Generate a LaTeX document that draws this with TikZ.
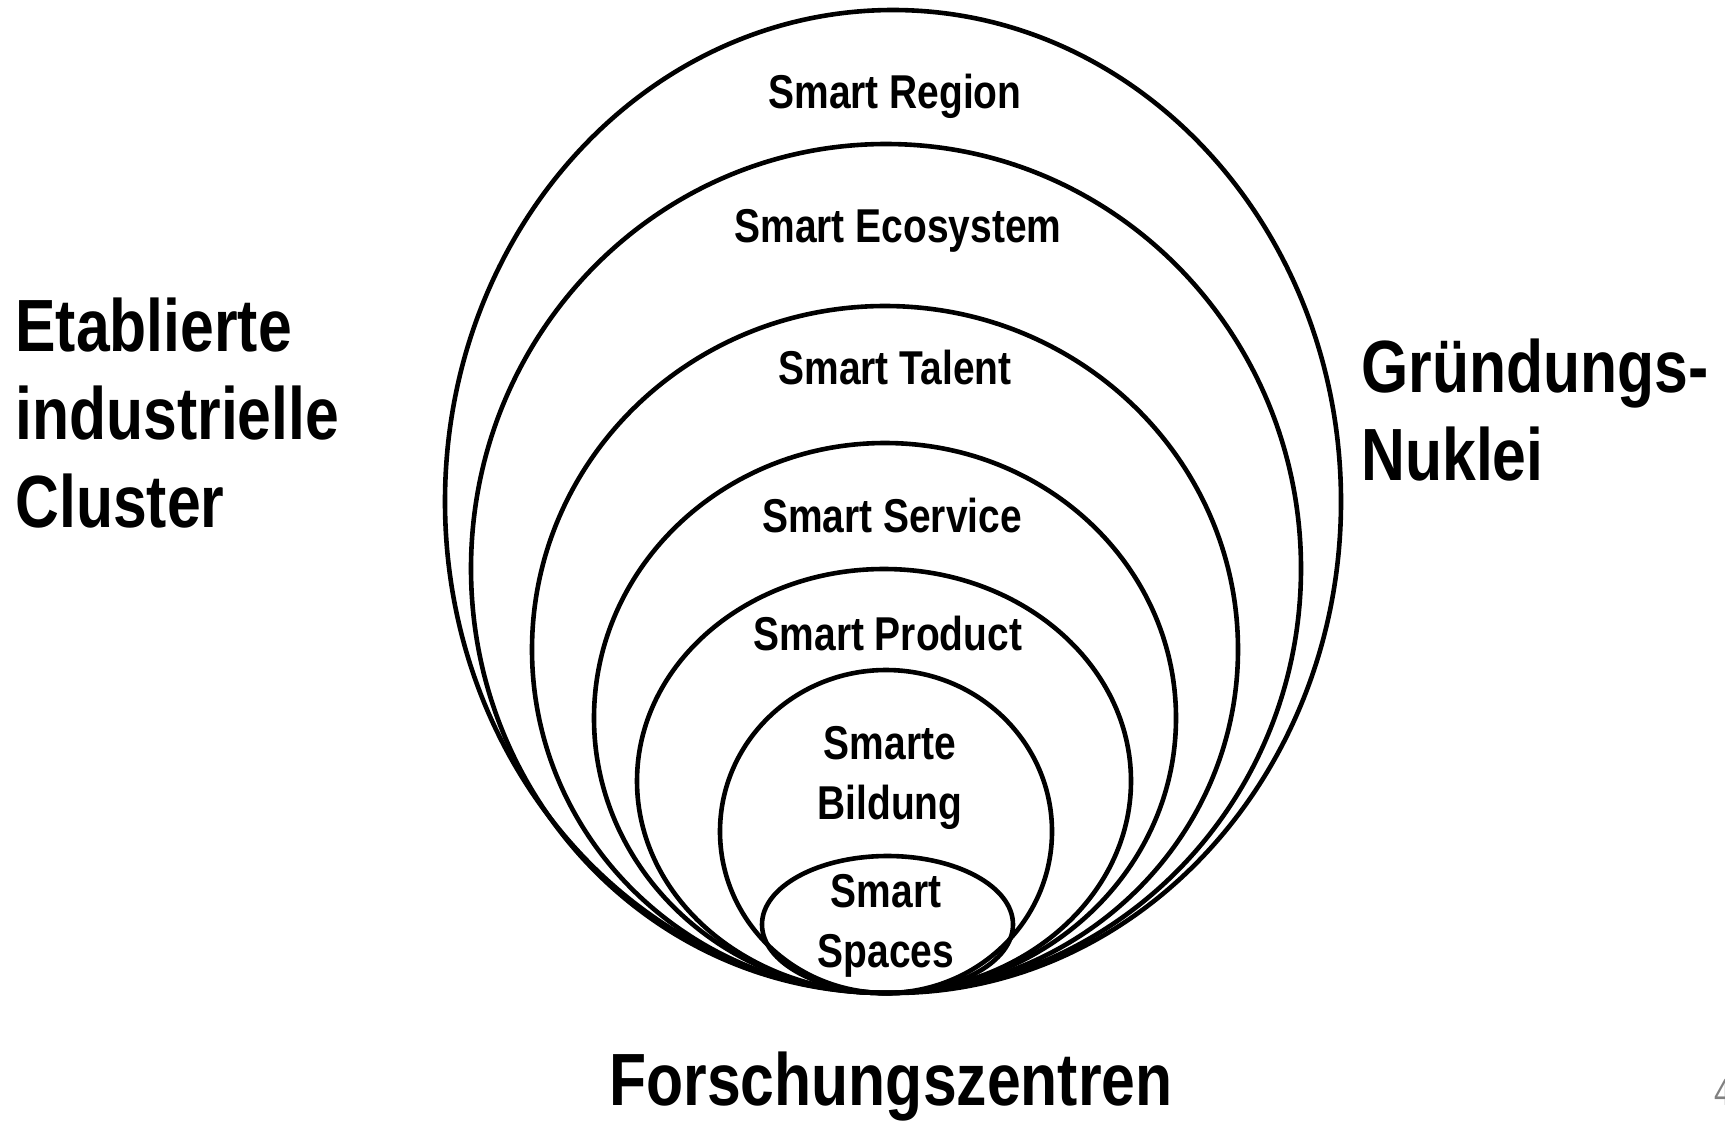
\documentclass[tikz,border=0pt]{standalone}
\usepackage{fontspec}
\setmainfont{Liberation Sans}[FakeStretch=0.82]
\usetikzlibrary{shapes.geometric}

\tikzset{
  ring/.style={draw, ellipse, inner sep=0pt, line width=2.3pt},
  layer/.style={font=\bfseries\fontsize{23.75}{30}\selectfont, align=center, inner sep=0pt, anchor=base},
  actor/.style={font=\bfseries\fontsize{37}{44}\selectfont, align=left, inner sep=0pt, anchor=base west},
}

\begin{document}
\begin{tikzpicture}[x=0.5pt, y=-0.5pt]
\useasboundingbox (0,0) rectangle (1725,1121);

\node[ring, minimum width=448pt, minimum height=491.5pt] (region) at (893, 501.5) {};
\node[ring, minimum width=415pt, minimum height=424.5pt] (ecosystem) at (886, 568.5) {};
\node[ring, minimum width=353pt, minimum height=343.5pt] (talent) at (885, 649.5) {};
\node[ring, minimum width=291pt, minimum height=275pt] (service) at (885, 718) {};
\node[ring, minimum width=247pt, minimum height=212pt] (product) at (884, 781) {};
\node[ring, minimum width=166pt, minimum height=161.5pt] (bildung) at (886, 831.5) {};
\node[ring, minimum width=125.5pt, minimum height=68.5pt] (spaces) at (887.5, 924.5) {};

\node[layer] (tregion) at (895, 108) {Smart Region};
\node[layer] (tecosystem) at (898, 242) {Smart Ecosystem};
\node[layer] (ttalent) at (895, 384) {Smart Talent};
\node[layer] (tservice) at (892, 532) {Smart Service};
\node[layer] (tproduct) at (888, 650) {Smart Product};
\node[layer] (tbildung) at (890, 819) {Smarte\\Bildung};
\node[layer] (tspaces) at (886, 967) {Smart\\Spaces};

\node[actor] (cluster) at (15, 527) {Etablierte\\industrielle\\Cluster};
\node[actor] (nuklei) at (1361, 480) {Gründungs-\\Nuklei};
\node[actor, align=center, anchor=base] (zentren) at (891, 1105) {Forschungszentren};

\node[font=\fontsize{19}{20}\selectfont, text=gray, inner sep=0pt, anchor=base west] (page) at (1714, 1105) {4};

\end{tikzpicture}
\end{document}
